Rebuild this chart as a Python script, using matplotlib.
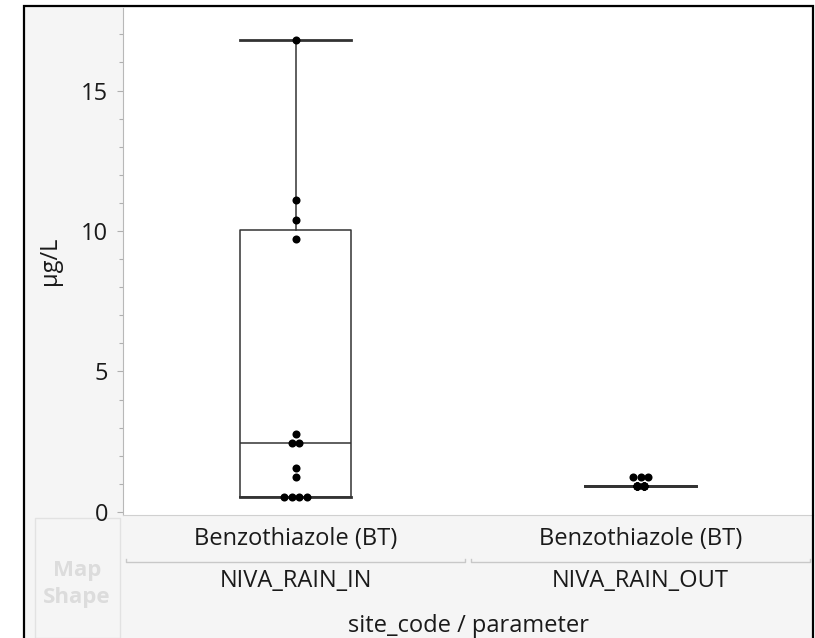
import numpy as np
import matplotlib
matplotlib.use("Agg")
import matplotlib.pyplot as plt
from matplotlib.patches import Rectangle
from matplotlib.transforms import blended_transform_factory
from matplotlib.ticker import MultipleLocator

plt.rcParams['font.family'] = ['Open Sans', 'DejaVu Sans']

#%% Data
parameter = "Benzothiazole (BT)"
sites = ["NIVA_RAIN_IN", "NIVA_RAIN_OUT"]
in_values = [16.8, 11.1, 10.4, 9.7, 2.78, 2.45, 2.45, 1.56, 1.24, 0.54, 0.54, 0.54, 0.54]
out_values = [1.26, 1.26, 1.26] + [0.94] * 12
y_label = "μg/L"
x_title = "site_code / parameter"

#%% Helpers
W, H = 815, 638
def fx(px): return px / W
def fy(py): return 1 - py / H

def box_stats(vals):
    v = np.asarray(vals)
    q1, med, q3 = np.percentile(v, [25, 50, 75], method="weibull")
    iqr = q3 - q1
    lo = v[v >= q1 - 1.5 * iqr].min()
    hi = v[v <= q3 + 1.5 * iqr].max()
    return dict(med=med, q1=q1, q3=q3, whislo=lo, whishi=hi, fliers=[])

def jitter(vals, step):
    v = np.asarray(vals)
    offs = np.zeros(len(v))
    for u in np.unique(v):
        idx = np.where(v == u)[0]
        k = len(idx) if len(idx) <= 4 else 2
        for j, i in enumerate(idx):
            offs[i] = (j % k - (k - 1) / 2) * step
    return offs

#%% Figure
fig = plt.figure(figsize=(W / 100, H / 100), dpi=100)
fig.patch.set_facecolor("white")

# grey panel behind everything
fig.add_artist(Rectangle((fx(24), 0), fx(813) - fx(24), fy(6), transform=fig.transFigure,
                         facecolor="#f5f5f5", edgecolor="none", zorder=-1))
# Map Shape box
fig.add_artist(Rectangle((fx(35), 0), fx(120) - fx(35), fy(518), transform=fig.transFigure,
                         facecolor="#f5f5f5", edgecolor="#e2e2e2", lw=1, zorder=-0.5))
fig.text(fx(77), fy(584), "Map\nShape", ha="center", va="center", fontsize=16,
         fontweight="bold", color="#dcdcdc", linespacing=1.4)

ax = fig.add_axes([fx(123), fy(515), fx(813) - fx(123), (515 - 8) / H])
ax.set_facecolor("white")

stats = [box_stats(in_values), box_stats(out_values)]
lineprops = dict(color="#333333", linewidth=1.1)
capprops = dict(color="#333333", linewidth=2.0)
ax.bxp(stats, positions=[0, 1], widths=0.32, capwidths=0.32, showfliers=False,
       boxprops=lineprops, whiskerprops=lineprops, capprops=capprops,
       medianprops=lineprops)

for i, vals in enumerate([in_values, out_values]):
    ax.plot(i + jitter(vals, 0.022), vals, "o", color="black", markersize=5.8,
            markeredgewidth=0, zorder=5)

ax.set_xlim(-0.5, 1.5)
ax.set_ylim(-0.11, 17.94)
ax.yaxis.set_major_locator(MultipleLocator(5))
ax.yaxis.set_minor_locator(MultipleLocator(1))
ax.tick_params(axis="y", which="major", direction="out", length=4.5, width=0.8,
               color="#b0b0b0", labelsize=17, labelcolor="#1a1a1a", pad=6)
ax.tick_params(axis="y", which="minor", direction="out", length=3, width=0.8, color="#b0b0b0")
ax.set_xticks([])
for s in ["top", "right"]:
    ax.spines[s].set_visible(False)
ax.spines["left"].set_color("#b8b8b8")
ax.spines["bottom"].set_color("#d0d0d0")

fig.text(fx(50), fy(261), y_label, rotation=90, ha="center", va="center",
         fontsize=17, color="#1a1a1a")

# category labels below the plot
tr = blended_transform_factory(ax.transData, fig.transFigure)
for i, site in enumerate(sites):
    ax.text(i, fy(539), parameter, transform=tr, ha="center", va="center",
            fontsize=17, color="#1a1a1a", clip_on=False)
    ax.text(i, fy(581), site, transform=tr, ha="center", va="center",
            fontsize=17, color="#1a1a1a", clip_on=False)
    ax.plot([i - 0.49, i - 0.49, i + 0.49, i + 0.49],
            [fy(559), fy(562), fy(562), fy(559)], transform=tr,
            color="#c8c8c8", lw=1, clip_on=False)
ax.text(0.5, fy(626), x_title, transform=tr, ha="center", va="center",
        fontsize=17, color="#1a1a1a", clip_on=False)

# outer black frame
fig.add_artist(Rectangle((fx(24), -0.01), fx(813) - fx(24), fy(6) + 0.01,
                         transform=fig.transFigure, fill=False, edgecolor="black",
                         lw=1.6, zorder=10))

fig.savefig("out.png", dpi=100)
